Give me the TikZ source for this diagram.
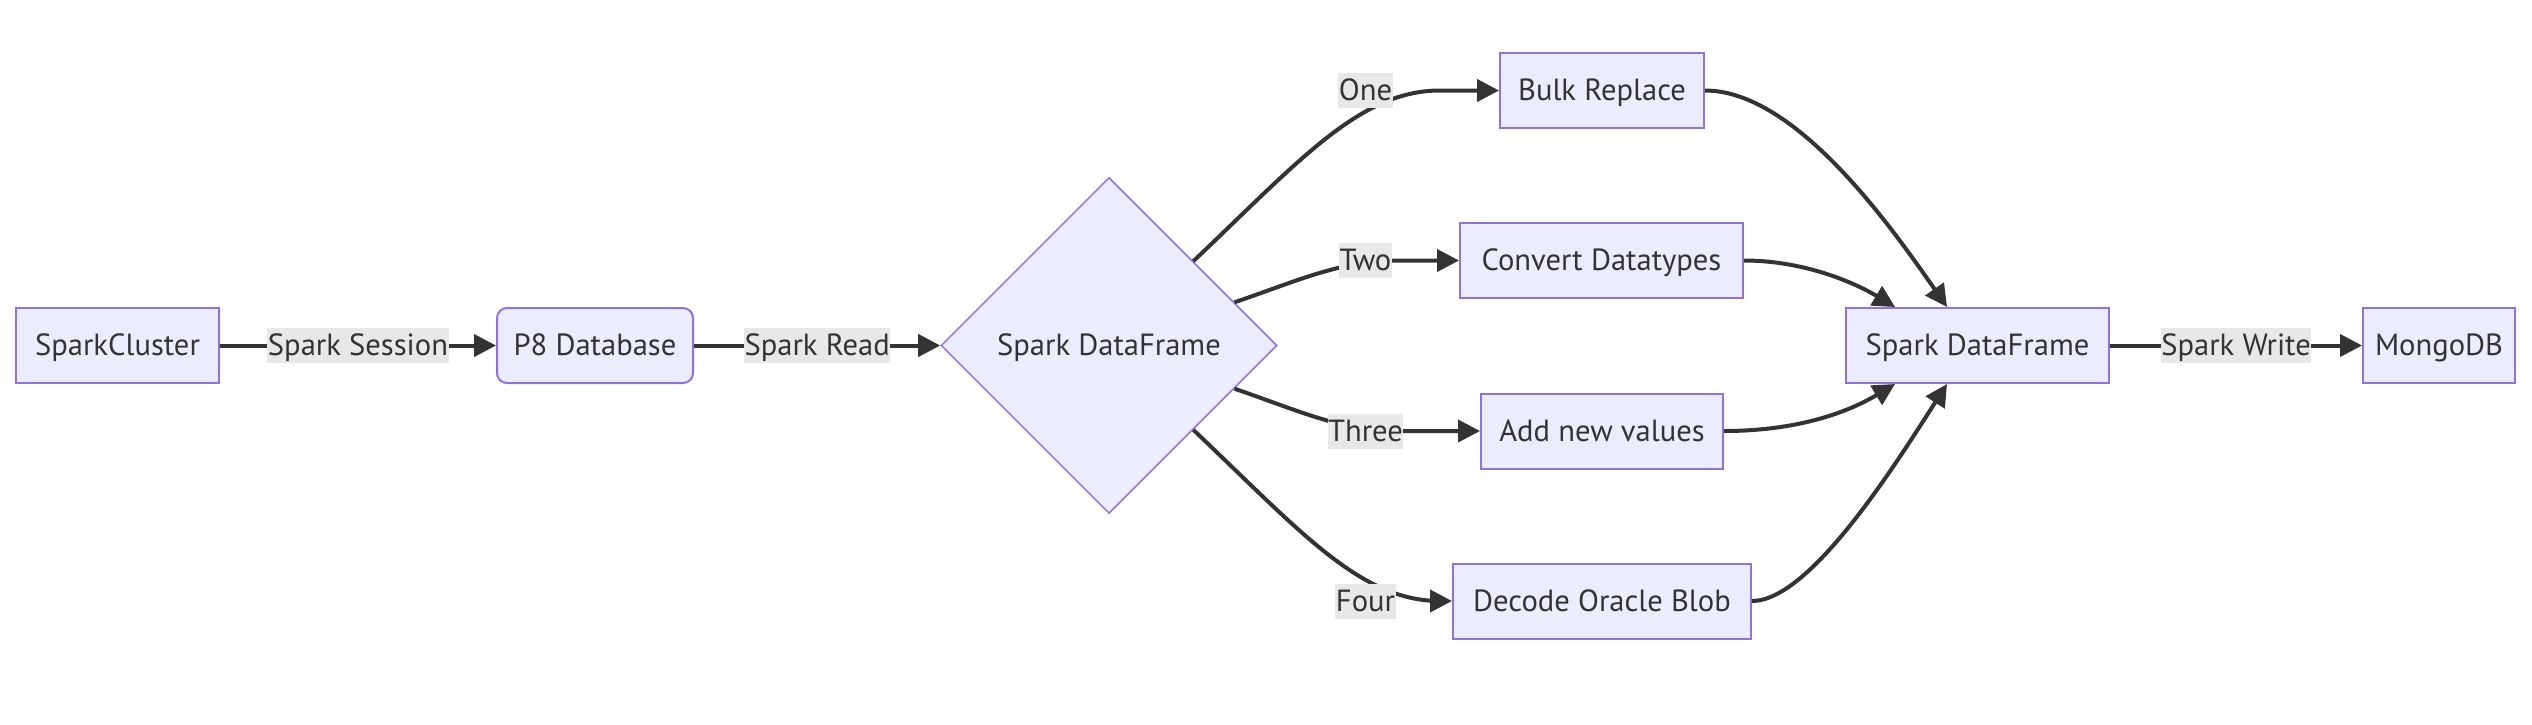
\documentclass[tikz,border=0pt]{standalone}
\usepackage{fontspec}
\setmainfont{PT Sans}
\usetikzlibrary{shapes.geometric,arrows.meta}
\definecolor{nodefill}{HTML}{ECECFF}
\definecolor{nodeline}{HTML}{9370DB}
\definecolor{ink}{HTML}{333333}
\definecolor{lblbg}{HTML}{E8E8E8}
\begin{document}
\begin{tikzpicture}[x=1pt,y=-1pt,
  txt/.style={text=ink, font={\fontsize{30.6}{37}\selectfont}, text height=27.5pt, text depth=7pt},
  box/.style={txt, draw=nodeline, fill=nodefill, line width=2pt, inner sep=0pt, minimum height=75pt},
  rbox/.style={box, rounded corners=10pt},
  decision/.style={txt, diamond, draw=nodeline, fill=nodefill, line width=1.5pt, inner sep=0pt, minimum size=336pt, aspect=1},
  lbl/.style={txt, fill=lblbg, inner xsep=0.5pt, inner ysep=0pt, minimum height=35pt},
  edge/.style={draw=ink, line width=4pt, -{Triangle[length=22pt,width=22pt]}}
]
\fill[white] (0,0) rectangle (2532,724);
\useasboundingbox (0,0) rectangle (2532,724);

\node[box, minimum width=203pt] (sc) at (117.5,345.5) {SparkCluster};
\node[rbox, minimum width=196pt] (p8) at (595,345.5) {P8 Database};
\node[decision] (dia) at (1109,345.5) {Spark DataFrame};
\node[box, minimum width=204pt] (bulk) at (1602,90.5) {Bulk Replace};
\node[box, minimum width=283pt] (conv) at (1601.5,260.5) {Convert Datatypes};
\node[box, minimum width=242pt] (add) at (1602,431) {Add new values};
\node[box, minimum width=298pt] (blob) at (1602,601) {Decode Oracle Blob};
\node[box, minimum width=263pt] (sdf) at (1977.5,345.5) {Spark DataFrame};
\node[box, minimum width=152pt] (mongo) at (2439,345.5) {MongoDB};

\draw[edge] (sc) -- node[lbl] (lss) {Spark Session} (p8);
\draw[edge] (p8) -- node[lbl] (lsr) {Spark Read} (dia);
\draw[edge] (sdf) -- node[lbl] (lsw) {Spark Write} (mongo);

\draw[edge] (dia.north east) .. controls (1300,160) and (1360,90.5) .. (1440,90.5) -- (bulk.west);
\draw[edge] (dia.19) .. controls (1300,280) and (1340,260.5) .. (1400,260.5) -- (conv.west);
\draw[edge] (dia.-19) .. controls (1300,411) and (1340,431) .. (1400,431) -- (add.west);
\draw[edge] (dia.south east) .. controls (1300,531) and (1360,601) .. (1440,601) -- (blob.west);

\node[lbl] (lone) at (1365.5,90.5) {One};
\node[lbl] (ltwo) at (1365.5,260.5) {Two};
\node[lbl] (lthree) at (1365.5,431) {Three};
\node[lbl] (lfour) at (1365.5,601) {Four};

\draw[edge] (bulk.east) .. controls (1795,90.5) and (1890,225) .. ([xshift=102pt]sdf.north west);
\draw[edge] (conv.east) .. controls (1800,260.5) and (1850,280) .. ([xshift=50pt]sdf.north west);
\draw[edge] (add.east) .. controls (1800,431) and (1850,411) .. ([xshift=50pt]sdf.south west);
\draw[edge] (blob.east) .. controls (1810,601) and (1895,465) .. ([xshift=102pt]sdf.south west);
\end{tikzpicture}
\end{document}
